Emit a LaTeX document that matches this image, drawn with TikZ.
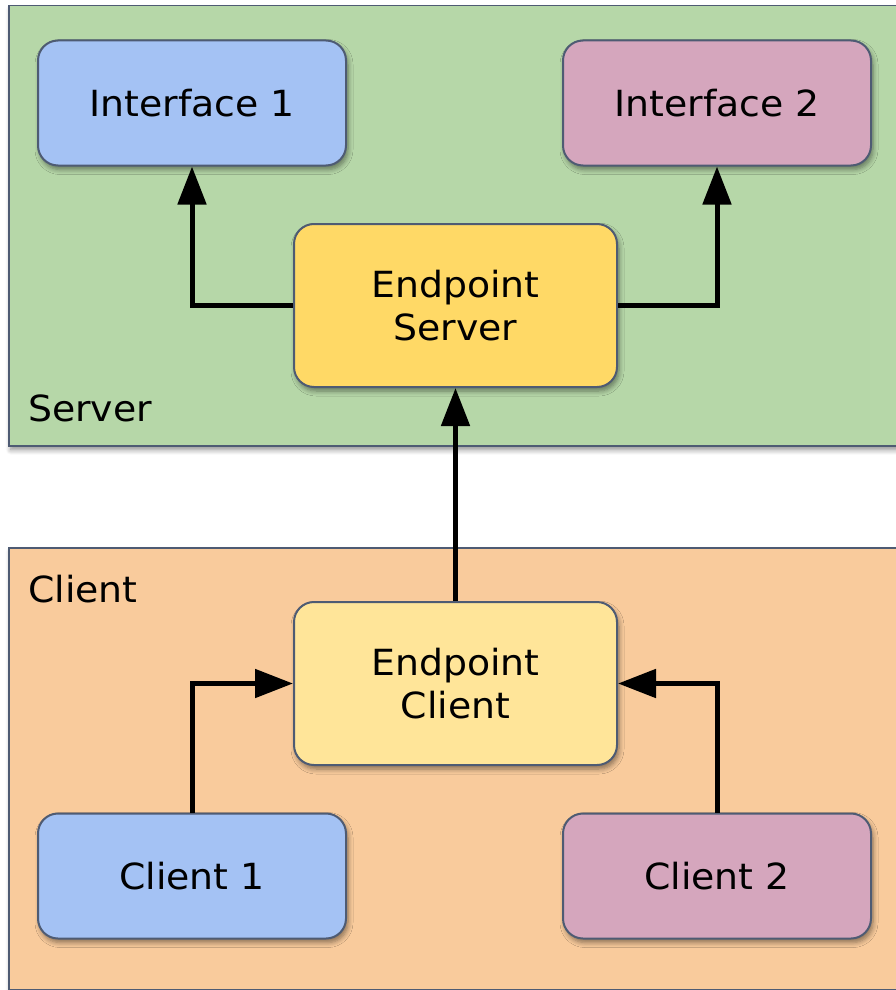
\documentclass[tikz,border=0pt]{standalone}
\usepackage{fontspec}
\setmainfont[FakeStretch=1.05]{DejaVu Sans}
\usetikzlibrary{arrows.meta,shadows.blur}

\definecolor{servergreen}{HTML}{B6D7A8}
\definecolor{clientorange}{HTML}{F9CB9C}
\definecolor{boxblue}{HTML}{A4C2F4}
\definecolor{boxpink}{HTML}{D5A6BD}
\definecolor{boxyellow}{HTML}{FFD966}
\definecolor{boxlightyellow}{HTML}{FFE599}
\definecolor{edgeslate}{HTML}{4E5B73}

\tikzset{
  softshadow/.style={blur shadow={shadow xshift=2pt, shadow yshift=-4pt,
      shadow blur radius=5pt, shadow blur steps=6, shadow opacity=45}},
  region/.style={draw=edgeslate, line width=1.5pt, rectangle, anchor=north west,
      inner sep=0pt, softshadow},
  regionlabel/.style={anchor=west, inner sep=0pt, font=\fontsize{36}{43}\selectfont},
  compbox/.style={draw=edgeslate, line width=2pt, rectangle, rounded corners=20pt,
      minimum width=308pt, minimum height=125pt, inner sep=0pt, align=center,
      font=\fontsize{36}{43}\selectfont, softshadow},
  endbox/.style={compbox, minimum width=323pt, minimum height=163pt},
  conn/.style={line width=5pt, -{Triangle[length=38pt,width=28pt]}},
}

\begin{document}
\begin{tikzpicture}[x=1pt,y=-1pt]
\useasboundingbox (0,0) rectangle (895,990);

% server and client areas
\node[region, fill=servergreen, minimum width=900pt, minimum height=440pt] (server) at (8,5) {};
\node[region, fill=clientorange, minimum width=900pt, minimum height=442pt] (client) at (8,547) {};
\node[regionlabel] (serverlabel) at (28,408) {Server};
\node[regionlabel] (clientlabel) at (28,589) {Client};

% components
\node[compbox, fill=boxblue] (if1) at (192,103) {Interface 1};
\node[compbox, fill=boxpink] (if2) at (717,103) {Interface 2};
\node[endbox, fill=boxyellow] (es) at (455.5,305.5) {Endpoint\\Server};
\node[endbox, fill=boxlightyellow] (ec) at (455.5,683.5) {Endpoint\\Client};
\node[compbox, fill=boxblue] (c1) at (192,876) {Client 1};
\node[compbox, fill=boxpink] (c2) at (717,876) {Client 2};

% connections
\draw[conn] (es.west) -| (if1.south);
\draw[conn] (es.east) -| (if2.south);
\draw[conn] (ec.north) -- (es.south);
\draw[conn] (c1.north) |- (ec.west);
\draw[conn] (c2.north) |- (ec.east);
\end{tikzpicture}
\end{document}
